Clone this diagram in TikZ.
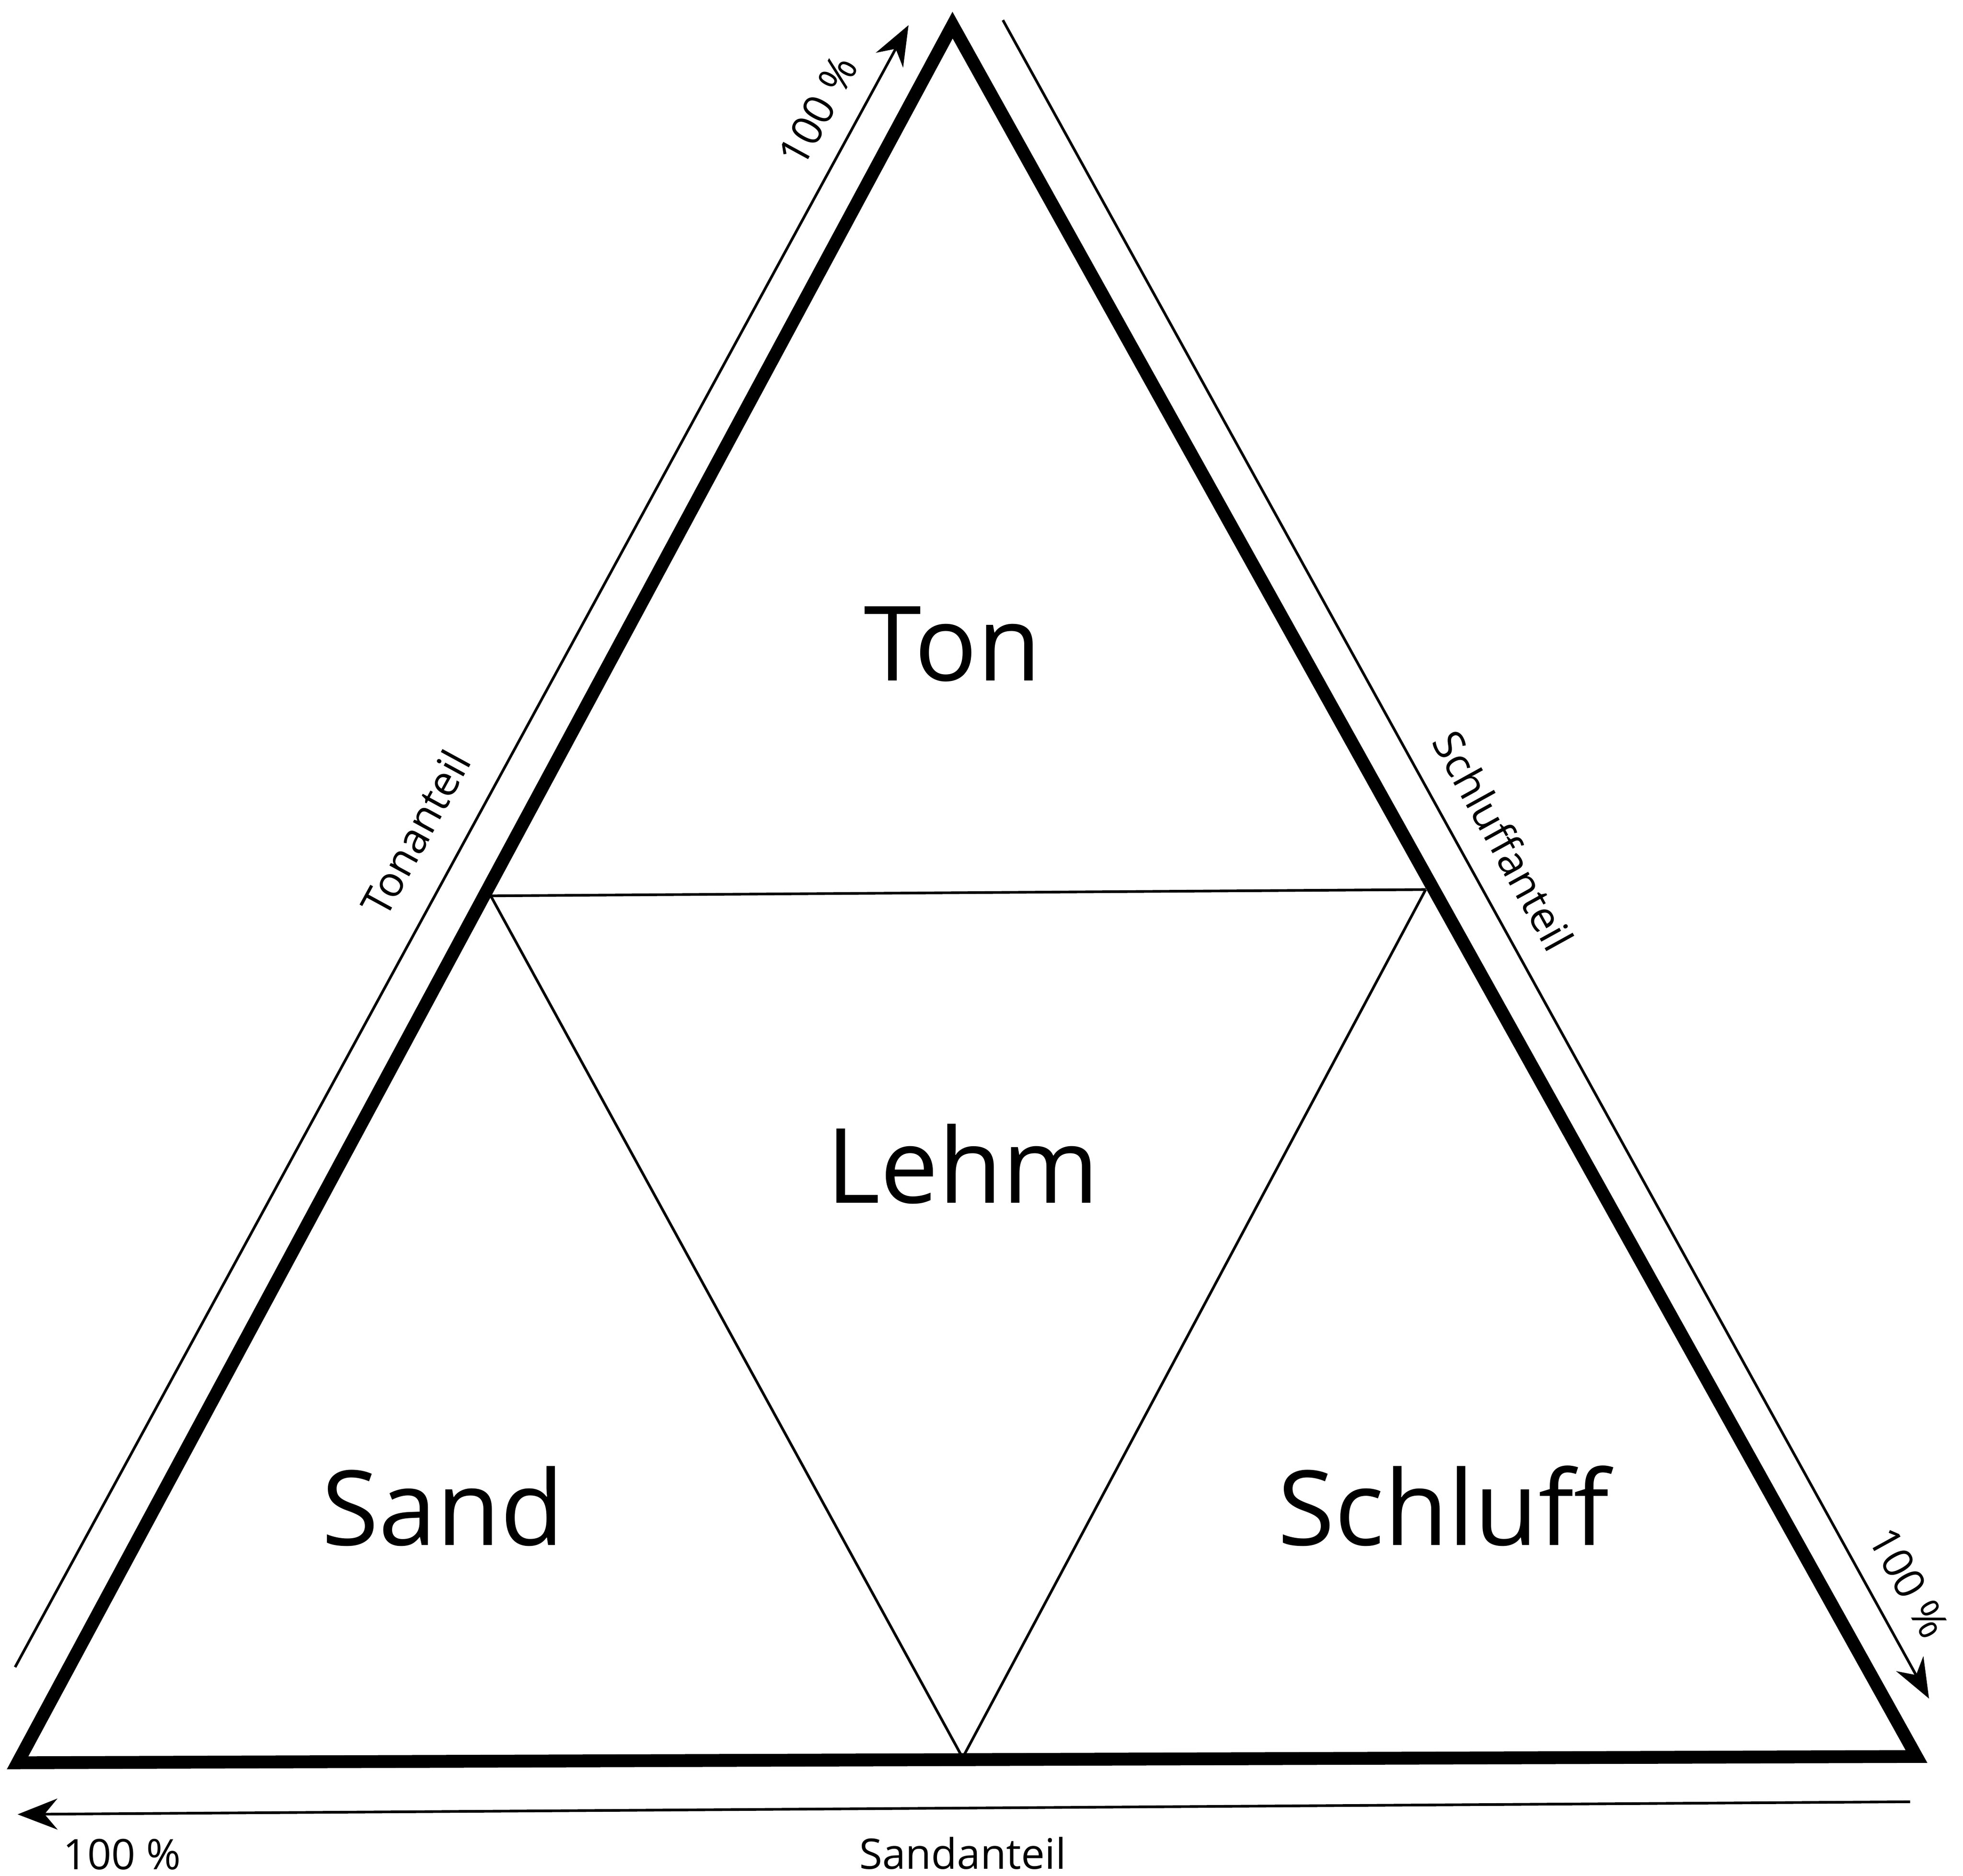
\documentclass[tikz,border=0pt]{standalone}
\usepackage{fontspec}
\setmainfont{Open Sans}
\usetikzlibrary{arrows.meta}
\begin{document}
\begin{tikzpicture}[x=0.01cm,y=-0.01cm,
  thick line/.style={line width=2.9pt,line join=miter},
  thin line/.style={line width=0.6pt},
  axis/.style={line width=0.6pt,-{Stealth[length=9pt,width=7pt]}},
  big/.style={font=\fontsize{23.5}{28}\selectfont},
  small/.style={font=\fontsize{9.5}{11}\selectfont}]
\useasboundingbox (0,0) rectangle (1560,1491);
\coordinate (T) at (757,20);
\coordinate (L) at (14,1401);
\coordinate (R) at (1523,1396);
\coordinate (ML) at (390,712);
\coordinate (MR) at (1133,707);
\coordinate (MB) at (765,1397);
\draw[thick line] (T) -- (L) -- (R) -- cycle;
\draw[thin line] (ML) -- (MR);
\draw[thin line] (ML) -- (MB) -- (MR);
\node[big] (ton) at (757,512) {Ton};
\node[big] (lehm) at (765,925) {Lehm};
\node[big] (sand) at (352,1197) {Sand};
\node[big] (schluff) at (1147,1197) {Schluff};
\coordinate (a1) at (12,1325); \coordinate (a2) at (722,20);
\draw[axis] (a1) -- (a2);
\coordinate (b1) at (797,16); \coordinate (b2) at (1533,1350);
\draw[axis] (b1) -- (b2);
\coordinate (c1) at (1518,1432); \coordinate (c2) at (14,1442);
\draw[axis] (c1) -- (c2);
\node[small,rotate=61.4] (p1) at (650,88) {100 \%};
\node[small,rotate=61.4] (tonanteil) at (330,662) {Tonanteil};
\node[small,rotate=-61.1] (schluffanteil) at (1195,668) {Schluffanteil};
\node[small,rotate=-61.1] (p2) at (1517,1258) {100 \%};
\node[small] (p3) at (97,1474) {100 \%};
\node[small] (sandanteil) at (765,1473) {Sandanteil};
\end{tikzpicture}
\end{document}
